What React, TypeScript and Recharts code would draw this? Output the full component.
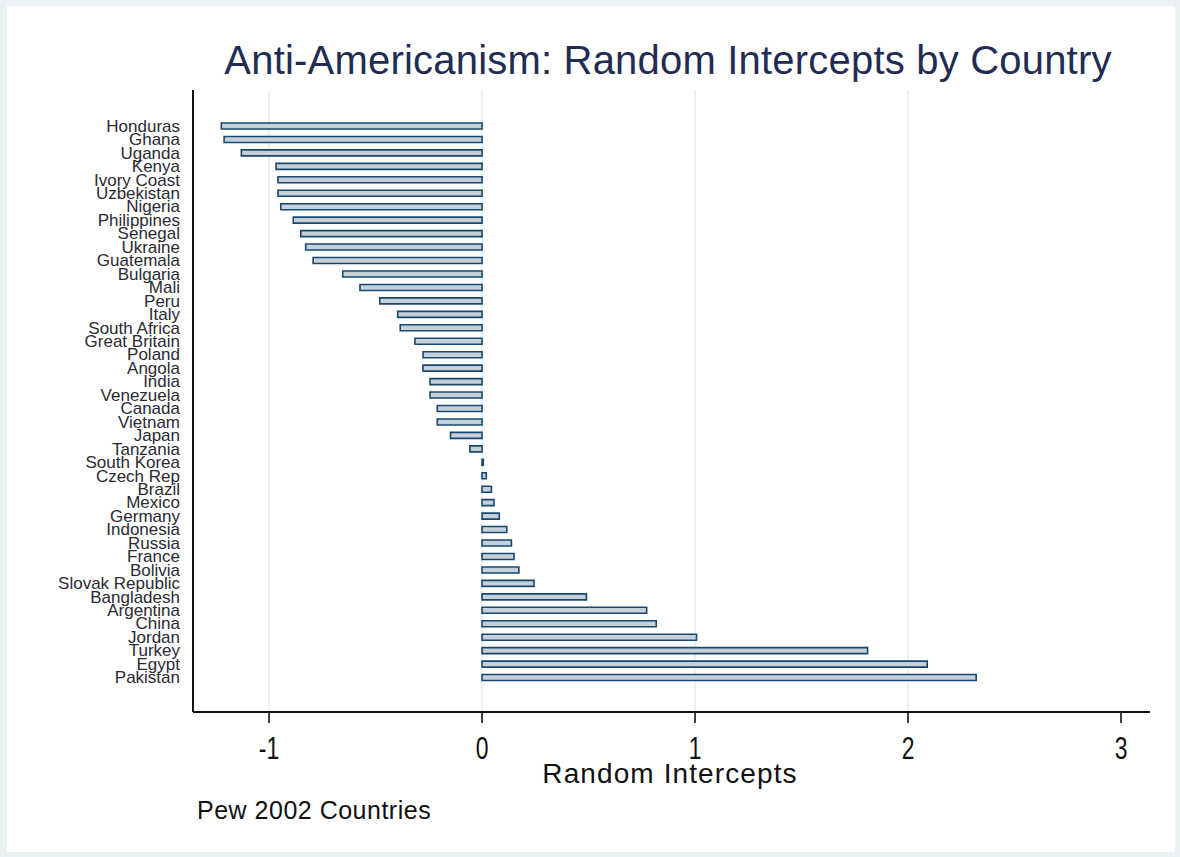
import { Bar, BarChart, CartesianGrid, XAxis, YAxis } from "recharts";

const countries = [
  "Honduras", "Ghana", "Uganda", "Kenya", "Ivory Coast", "Uzbekistan", "Nigeria",
  "Philippines", "Senegal", "Ukraine", "Guatemala", "Bulgaria", "Mali", "Peru",
  "Italy", "South Africa", "Great Britain", "Poland", "Angola", "India", "Venezuela",
  "Canada", "Vietnam", "Japan", "Tanzania", "South Korea", "Czech Rep", "Brazil",
  "Mexico", "Germany", "Indonesia", "Russia", "France", "Bolivia", "Slovak Republic",
  "Bangladesh", "Argentina", "China", "Jordan", "Turkey", "Egypt", "Pakistan",
];

const intercepts = [
  -1.224, -1.211, -1.13, -0.967, -0.958, -0.958, -0.945,
  -0.886, -0.851, -0.828, -0.793, -0.654, -0.573, -0.48,
  -0.396, -0.384, -0.315, -0.277, -0.277, -0.244, -0.244,
  -0.21, -0.21, -0.148, -0.057, 0.006, 0.02, 0.044,
  0.056, 0.081, 0.116, 0.138, 0.15, 0.173, 0.244,
  0.49, 0.773, 0.818, 1.007, 1.81, 2.09, 2.32,
];

const xTicks = [-1, 0, 1, 2, 3];
const gridValues = [-1, 0, 1, 2];

const data = countries.map((country, i) => ({ country, value: intercepts[i] }));

const sans = "'Liberation Sans', Arial, sans-serif";

// stata draws the tick numbers tall and narrow
function NarrowTick(props: any) {
  const { x, y, payload } = props;
  return (
    <text
      transform={`translate(${x}, ${y}) scale(0.74, 1)`}
      textAnchor="middle"
      dy="0.71em"
      fontSize={31}
      fill="#111"
      fontFamily={sans}
    >
      {payload.value}
    </text>
  );
}

export default function App() {
  return (
    <div
      style={{
        position: "absolute",
        top: 0,
        left: 0,
        width: 1180,
        height: 857,
        background: "#e9f1f3",
      }}
    >
      <div
        style={{
          position: "absolute",
          left: 7,
          top: 6,
          width: 1168,
          height: 846,
          background: "#ffffff",
        }}
      />
      <div style={{ position: "absolute", left: 0, top: 0 }}>
        <BarChart
          width={1180}
          height={857}
          data={data}
          layout="vertical"
          margin={{ top: 90, right: 30, bottom: 85, left: 0 }}
          barCategoryGap={0}
        >
          <CartesianGrid
            horizontal={false}
            vertical
            verticalValues={gridValues}
            stroke="#dce9ed"
            strokeWidth={1.2}
          />
          <XAxis
            type="number"
            domain={[-1.357, 3.136]}
            ticks={xTicks}
            interval={0}
            height={60}
            axisLine={{ stroke: "#111", strokeWidth: 2 }}
            tickLine={{ stroke: "#111", strokeWidth: 1.6 }}
            tickSize={11}
            tickMargin={14}
            tick={<NarrowTick />}
          />
          <YAxis
            type="category"
            dataKey="country"
            width={193}
            interval={0}
            padding={{ top: 29, bottom: 28 }}
            axisLine={{ stroke: "#111", strokeWidth: 2 }}
            tickLine={false}
            tickSize={0}
            tickMargin={13}
            tick={{ fontSize: 17, fill: "#2a2a33", fontFamily: sans }}
          />
          <Bar
            dataKey="value"
            fill="#c5d0da"
            stroke="#1a476f"
            strokeWidth={1.6}
            barSize={6}
            isAnimationActive={false}
          />
        </BarChart>
      </div>
      <svg
        width={1180}
        height={857}
        style={{ position: "absolute", left: 0, top: 0, pointerEvents: "none" }}
      >
        <text
          x={668}
          y={74}
          textAnchor="middle"
          fontSize={40}
          letterSpacing={0.2}
          fill="#1f2d54"
          fontFamily={sans}
        >
          Anti-Americanism: Random Intercepts by Country
        </text>
        <text
          x={670}
          y={783}
          textAnchor="middle"
          fontSize={28}
          letterSpacing={1.1}
          fill="#111"
          fontFamily={sans}
        >
          Random Intercepts
        </text>
        <text x={197} y={819} fontSize={25} letterSpacing={0.5} fill="#111" fontFamily={sans}>
          Pew 2002 Countries
        </text>
      </svg>
    </div>
  );
}
